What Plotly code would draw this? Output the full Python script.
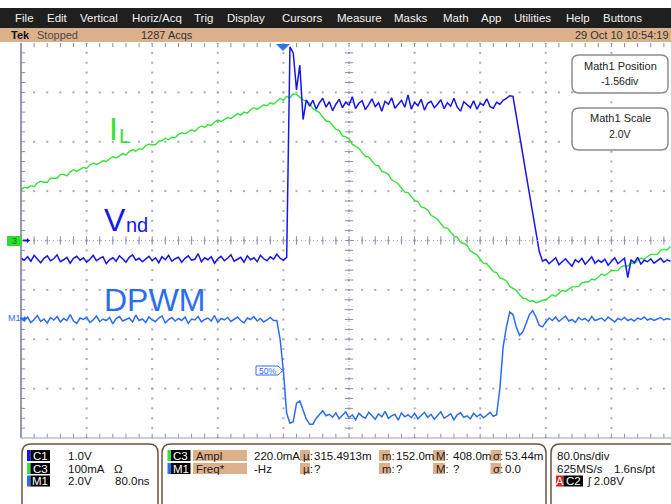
import plotly.graph_objects as go

W, H = 671, 504
FONT = "Liberation Sans"

# Acquisition settings
NS_PER_DIV = 80.0          # 80.0ns/div
SAMPLE_NS = 4.0            # decimated record spacing
X_DIVS_VISIBLE = (671 - 21) / 65.6

# C3: inductor current I_L (screen divisions, 100mA/div)
il_div = [
    1.03, 1.08, 1.06, 1.11, 1.09, 1.17, 1.20, 1.18, 1.18, 1.26,
    1.26, 1.26, 1.34, 1.34, 1.31, 1.39, 1.43, 1.40, 1.44, 1.48,
    1.46, 1.53, 1.57, 1.54, 1.57, 1.62, 1.60, 1.66, 1.70, 1.67,
    1.72, 1.76, 1.73, 1.80, 1.84, 1.81, 1.86, 1.85, 1.92, 1.95,
    1.94, 1.94, 2.01, 2.02, 2.07, 2.04, 2.09, 2.08, 2.15, 2.18,
    2.16, 2.20, 2.24, 2.21, 2.28, 2.32, 2.29, 2.35, 2.33, 2.40,
    2.44, 2.41, 2.45, 2.49, 2.47, 2.53, 2.57, 2.54, 2.60, 2.58,
    2.65, 2.69, 2.66, 2.70, 2.75, 2.73, 2.79, 2.76, 2.83, 2.88,
    2.84, 2.92, 2.89, 2.97, 2.96, 2.90, 2.85, 2.82, 2.78, 2.67,
    2.63, 2.59, 2.50, 2.42, 2.41, 2.34, 2.25, 2.23, 2.12, 2.10,
    2.06, 1.95, 1.91, 1.87, 1.78, 1.70, 1.69, 1.62, 1.53, 1.51,
    1.40, 1.38, 1.34, 1.23, 1.19, 1.15, 1.06, 0.98, 0.97, 0.90,
    0.81, 0.79, 0.68, 0.66, 0.62, 0.51, 0.47, 0.43, 0.34, 0.26,
    0.25, 0.18, 0.09, 0.07, -0.04, -0.06, -0.10, -0.21, -0.25, -0.29,
    -0.38, -0.46, -0.47, -0.54, -0.63, -0.65, -0.76, -0.78, -0.82, -0.93,
    -0.97, -1.01, -1.10, -1.17, -1.18, -1.23, -1.22, -1.26, -1.24, -1.21,
    -1.20, -1.15, -1.10, -1.13, -1.06, -1.01, -1.03, -0.99, -0.94, -0.94,
    -0.93, -0.86, -0.84, -0.84, -0.78, -0.80, -0.73, -0.68, -0.71, -0.66,
    -0.61, -0.61, -0.61, -0.53, -0.51, -0.52, -0.45, -0.47, -0.40, -0.36,
    -0.38, -0.33, -0.28, -0.28, -0.28, -0.20, -0.18, -0.19, -0.12,
]

# C1: switch node voltage V_nd (screen divisions, 1.0V/div)
vnd_div = [
    -0.35, -0.40, -0.33, -0.42, -0.30, -0.38, -0.45, -0.36, -0.31, -0.41,
    -0.37, -0.29, -0.43, -0.39, -0.34, -0.46, -0.36, -0.32, -0.40, -0.35,
    -0.44, -0.38, -0.30, -0.41, -0.36, -0.33, -0.47, -0.39, -0.35, -0.42,
    -0.31, -0.37, -0.44, -0.34, -0.29, -0.40, -0.36, -0.43, -0.38, -0.32,
    -0.41, -0.35, -0.45, -0.33, -0.39, -0.30, -0.42, -0.37, -0.34, -0.44,
    -0.36, -0.31, -0.40, -0.38, -0.27, -0.43, -0.35, -0.39, -0.33, -0.46,
    -0.37, -0.32, -0.41, -0.36, -0.29, -0.42, -0.38, -0.34, -0.44, -0.31,
    -0.39, -0.35, -0.43, -0.30, -0.37, -0.41, -0.33, -0.38, -0.28, -0.36,
    -0.40, -0.34,
    3.92, 3.80, 3.05, 3.55, 2.45, 2.85,
    2.72, 2.84, 2.66, 2.79, 2.88, 2.70, 2.81, 2.63, 2.76, 2.86,
    2.69, 2.80, 2.74, 2.91, 2.67, 2.78, 2.83, 2.65, 2.75, 2.87,
    2.71, 2.79, 2.62, 2.82, 2.76, 2.89, 2.68, 2.77, 2.84, 2.70,
    2.95, 2.66, 2.80, 2.73, 2.86, 2.64, 2.78, 2.82, 2.69, 2.76,
    2.85, 2.67, 2.79, 2.72, 2.88, 2.70, 2.62, 2.81, 2.75, 2.69,
    2.83, 2.66, 2.78, 2.74, 2.87, 2.71, 2.68, 2.80, 2.76, 2.84,
    2.88, 2.93,
    2.92, 2.55, 2.15, 1.74, 1.34, 0.93, 0.57, 0.16, -0.22,
    -0.42, -0.38, -0.47, -0.40, -0.35, -0.49, -0.43, -0.37, -0.45, -0.52,
    -0.39, -0.44, -0.36, -0.48, -0.41, -0.33, -0.46, -0.40, -0.44, -0.38,
    -0.50, -0.42, -0.35, -0.47, -0.41, -0.36, -0.75, -0.39, -0.45, -0.34,
    -0.48, -0.40, -0.43, -0.37, -0.46, -0.41, -0.36, -0.44, -0.39, -0.42,
]

# M1: DPWM gate signal (screen divisions, 2.0V/div)
dpwm_div = [
    -1.58, -1.63, -1.55, -1.66, -1.60, -1.52, -1.64, -1.59, -1.67, -1.56,
    -1.61, -1.54, -1.65, -1.58, -1.62, -1.50, -1.63, -1.68, -1.57, -1.60,
    -1.55, -1.66, -1.61, -1.53, -1.64, -1.59, -1.62, -1.56, -1.69, -1.58,
    -1.54, -1.63, -1.60, -1.57, -1.65, -1.51, -1.62, -1.59, -1.66, -1.55,
    -1.61, -1.64, -1.57, -1.53, -1.67, -1.60, -1.56, -1.63, -1.58, -1.62,
    -1.55, -1.68, -1.59, -1.61, -1.54, -1.65, -1.60, -1.57, -1.63, -1.52,
    -1.66, -1.58, -1.61, -1.56, -1.64, -1.59, -1.55, -1.62, -1.67, -1.57,
    -1.60, -1.54, -1.63, -1.58, -1.65, -1.61, -1.56, -1.62,
    -1.62, -2.00, -2.65, -3.50, -3.70, -3.67, -3.30, -3.25, -3.45, -3.62,
    -3.72, -3.72, -3.60, -3.52, -3.45, -3.55,
    -3.52, -3.58, -3.49, -3.61, -3.55, -3.47, -3.59, -3.53, -3.63, -3.50,
    -3.56, -3.60, -3.48, -3.54, -3.62, -3.51, -3.57, -3.46, -3.60, -3.55,
    -3.52, -3.64, -3.49, -3.57, -3.53, -3.59, -3.50, -3.61, -3.55, -3.48,
    -3.58, -3.52, -3.62, -3.54, -3.47, -3.60, -3.56, -3.51, -3.63, -3.53,
    -3.49, -3.58, -3.55, -3.61, -3.50, -3.57, -3.52, -3.59, -3.54, -3.48,
    -3.56, -3.53,
    -3.00, -2.15, -1.75, -1.45, -1.50, -1.75, -1.92, -1.85, -1.68, -1.50,
    -1.42, -1.55, -1.72, -1.75, -1.65,
    -1.57, -1.62, -1.55, -1.64, -1.59, -1.53, -1.63, -1.60, -1.66, -1.56,
    -1.61, -1.58, -1.64, -1.54, -1.62, -1.59, -1.57, -1.63, -1.55, -1.60,
    -1.65, -1.58, -1.61, -1.56, -1.62, -1.59, -1.63, -1.57, -1.60, -1.55,
    -1.61, -1.58, -1.62, -1.59, -1.56, -1.61, -1.58, -1.60,
]

assert len(il_div) == 199, len(il_div)
assert len(vnd_div) == 199, len(vnd_div)
assert len(dpwm_div) == 199, len(dpwm_div)

menu_items = ["File", "Edit", "Vertical", "Horiz/Acq", "Trig", "Display", "Cursors",
              "Measure", "Masks", "Math", "App", "Utilities", "Help", "Buttons"]
menu_x = [14, 46, 79, 131, 193, 226, 281, 336, 393, 442, 480, 513, 565, 602]

C_IL = "#36e236"
C_VND = "#1616ec"
C_DPWM = "#2d6cf0"
TAN = "#dcb08b"
GRID = "#a3aac4"
EDGE = "#8a90aa"
BROWN = "#6e5242"

X_MAX = X_DIVS_VISIBLE * NS_PER_DIV


def px(x):
    return x / W


def py(y):
    return 1 - y / H


shapes = []
annos = []


def rect(x0, y0, x1, y1, fill, line=None, lw=0):
    shapes.append(dict(type="rect", xref="paper", yref="paper",
                       x0=px(x0), x1=px(x1), y0=py(y1), y1=py(y0),
                       fillcolor=fill, line=dict(color=line or fill, width=lw)))


def rrect(x0, y0, x1, y1, r, fill, line, lw):
    p = (f"M {px(x0 + r)},{py(y0)} L {px(x1 - r)},{py(y0)} "
         f"Q {px(x1)},{py(y0)} {px(x1)},{py(y0 + r)} L {px(x1)},{py(y1 - r)} "
         f"Q {px(x1)},{py(y1)} {px(x1 - r)},{py(y1)} L {px(x0 + r)},{py(y1)} "
         f"Q {px(x0)},{py(y1)} {px(x0)},{py(y1 - r)} L {px(x0)},{py(y0 + r)} "
         f"Q {px(x0)},{py(y0)} {px(x0 + r)},{py(y0)} Z")
    shapes.append(dict(type="path", xref="paper", yref="paper", path=p,
                       fillcolor=fill, line=dict(color=line, width=lw)))


def poly(pts, fill, line=None, lw=0):
    p = "M " + " L ".join(f"{px(x)},{py(y)}" for x, y in pts) + " Z"
    shapes.append(dict(type="path", xref="paper", yref="paper", path=p,
                       fillcolor=fill, line=dict(color=line or fill, width=lw)))


def txt(x, y, s, size=11.5, color="#111111", anchor="left", family=FONT):
    annos.append(dict(x=px(x), y=py(y), xref="paper", yref="paper", text=s,
                      showarrow=False, xanchor=anchor, yanchor="middle",
                      borderpad=0, font=dict(size=size, color=color, family=family)))


fig = go.Figure()

# --- graticule: dotted division lines -------------------------------------
gx, gy = [], []
for k in range(1, 10):
    for j in range(-20, 21):
        gx.append(k * NS_PER_DIV)
        gy.append(j * 0.2)
for m in range(-3, 4):
    for j in range(1, 50):
        gx.append(j * NS_PER_DIV / 5)
        gy.append(m)
fig.add_trace(go.Scatter(x=gx, y=gy, mode="markers", hoverinfo="skip",
                         marker=dict(symbol="square", size=2, color=GRID, line=dict(width=0))))

# minor ticks on the centre cross and frame edges
minor_x = [j * NS_PER_DIV / 5 for j in range(1, 50)]
minor_y = [j * 0.2 for j in range(-19, 20)]
fig.add_trace(go.Scatter(x=minor_x * 3, y=[0] * 49 + [4] * 49 + [-4] * 49, mode="markers",
                         hoverinfo="skip",
                         marker=dict(symbol="line-ns", size=6, line=dict(width=1, color=EDGE))))
fig.add_trace(go.Scatter(x=[400] * 39 + [0] * 39, y=minor_y * 2, mode="markers",
                         hoverinfo="skip",
                         marker=dict(symbol="line-ew", size=6, line=dict(width=1, color=EDGE))))

# --- waveforms -------------------------------------------------------------
t_il = [i * SAMPLE_NS for i in range(len(il_div))]
t_vnd = [i * SAMPLE_NS for i in range(len(vnd_div))]
t_dpwm = [i * SAMPLE_NS for i in range(len(dpwm_div))]

fig.add_trace(go.Scatter(x=t_il, y=il_div, mode="lines", name="C3",
                         line=dict(color=C_IL, width=1.4)))
fig.add_trace(go.Scatter(x=t_dpwm, y=dpwm_div, mode="lines", name="M1",
                         line=dict(color=C_DPWM, width=1.5)))
fig.add_trace(go.Scatter(x=t_vnd, y=vnd_div, mode="lines", name="C1",
                         line=dict(color=C_VND, width=1.5)))

# frame lines and centre cross
X0, Y_TOP, Y_BOT = 21, 43, 438
shapes.append(dict(type="line", xref="paper", yref="paper", x0=px(X0), x1=px(X0),
                   y0=py(Y_BOT), y1=py(Y_TOP), line=dict(color="#737a96", width=1.5)))
shapes.append(dict(type="line", xref="paper", yref="paper", x0=px(X0), x1=1,
                   y0=py(Y_BOT), y1=py(Y_BOT), line=dict(color="#9aa0b8", width=1)))
shapes.append(dict(type="line", xref="x", yref="y", x0=0, x1=X_MAX, y0=0, y1=0,
                   line=dict(color=GRID, width=1, dash="1px,3px")))
shapes.append(dict(type="line", xref="x", yref="y", x0=400, x1=400, y0=-4, y1=4,
                   line=dict(color=GRID, width=1, dash="1px,3px")))

# --- menu and status bars --------------------------------------------------
rect(0, 8, W, 28, "#1f1f1f")
rect(0, 28, W, 42, TAN)
for name, x in zip(menu_items, menu_x):
    txt(x, 18, name, size=11.5, color="#f2f2f2")
txt(10, 35, "<b>Tek</b>", size=11, color="#111111")
txt(36, 35, "Stopped", size=11, color="#4a4a4a")
txt(140, 35, "1287 Acqs", size=11, color="#333333")
txt(670, 35, "29 Oct 10 10:54:19", size=11, color="#333333", anchor="right")

# trigger position marker
poly([(276, 44), (290, 44), (283, 51)], "#2a7be0")

# ground / reference markers on the left edge
rect(7, 236, 22, 246, "#2fdc2f")
txt(14.5, 241, "3", size=9, color="#1d6e1d", anchor="center")
poly([(23, 239.5), (27, 239.5), (27, 238), (30, 240.5), (27, 243), (27, 241.5), (23, 241.5)], C_VND)
txt(7, 318, "M1", size=9, color=C_DPWM)
poly([(20, 317.5), (24, 317.5), (24, 316), (27, 318.5), (24, 321), (24, 319.5), (20, 319.5)], C_DPWM)

# 50% threshold flag on the M1 edge
poly([(256, 366), (278, 366), (283, 370.5), (278, 375), (256, 375)], "white", C_DPWM, 1)
txt(267, 370.5, "50%", size=8.5, color=C_DPWM, anchor="center")

# trace labels
txt(108, 129, "I", size=32, color=C_IL)
txt(118, 136, "L", size=21, color=C_IL)
txt(103, 219.5, "V", size=32, color=C_VND)
txt(125, 225, "nd", size=20, color=C_VND)
txt(103, 300, "DPWM", size=32, color=C_DPWM)

# math readout boxes
rrect(572, 55, 668, 93, 7, "white", "#8c8c8c", 1.5)
txt(620, 66, "Math1 Position", size=11, color="#222222", anchor="center")
txt(620, 81, "-1.56div", size=10.5, color="#222222", anchor="center")
rrect(572, 108, 668, 150, 7, "white", "#8c8c8c", 1.5)
txt(620, 118, "Math1 Scale", size=11, color="#222222", anchor="center")
txt(620, 134, "2.0V", size=10.5, color="#222222", anchor="center")

# --- bottom readout panels -------------------------------------------------
rrect(22, 444, 158, 515, 9, "white", BROWN, 1.5)
rrect(162, 444, 546, 515, 9, "white", BROWN, 1.5)
rrect(551, 444, 690, 515, 9, "white", BROWN, 1.5)

R1, R2, R3 = 455.5, 468.5, 481


def chan_tag(x_sw, y, label, color):
    rect(x_sw, y - 5.5, x_sw + 3.5, y + 5.5, color)
    rect(x_sw + 3.5, y - 5.5, x_sw + 23, y + 5.5, "#000000")
    txt(x_sw + 13.2, y, label, size=11.5, color="white", anchor="center")


chan_tag(27, R1, "C1", C_VND)
chan_tag(27, R2, "C3", C_IL)
chan_tag(27, R3, "M1", C_DPWM)
txt(67, R1, "1.0V")
txt(67, R2, "100mA")
txt(113, R2, "Ω")
txt(67, R3, "2.0V")
txt(114, R3, "80.0ns")

chan_tag(167.5, R1, "C3", C_IL)
chan_tag(167.5, R2, "M1", C_DPWM)


def tan_tag(x0, x1, y, s):
    rect(x0, y - 5.5, x1, y + 5.5, TAN)
    txt(x0 + 1.5, y, s, size=11.5, color="#2a2016")


tan_tag(193, 247, R1, "Ampl")
tan_tag(193, 247, R2, "Freq*")
txt(253, R1, "220.0mA")
txt(253, R2, "-Hz")
for x0, x1, lab, xv, v1, v2 in [(300, 310, "µ:", 313, "315.4913m", "?"),
                                 (379, 390, "m:", 395, "152.0m", "?"),
                                 (433, 445, "M:", 452, "408.0m", "?"),
                                 (490.5, 501, "σ:", 504, "53.44m", "0.0")]:
    tan_tag(x0, x1, R1, lab)
    tan_tag(x0, x1, R2, lab)
    txt(xv, R1, v1)
    txt(xv, R2, v2)

txt(556, R1, "80.0ns/div")
txt(556, R2, "625MS/s")
txt(613, R2, "1.6ns/pt")
rect(556, R3 - 5.5, 563.5, R3 + 5.5, "#ee1c1c")
txt(559.8, R3, "A", size=11, color="white", anchor="center")
rect(563.5, R3 - 5.5, 583, R3 + 5.5, "#000000")
txt(573.2, R3, "C2", size=11.5, color="white", anchor="center")
txt(586, R3, "ʃ 2.08V")

fig.update_layout(
    width=W, height=H,
    margin=dict(l=0, r=0, t=0, b=0),
    paper_bgcolor="white", plot_bgcolor="white",
    showlegend=False,
    xaxis=dict(domain=[px(X0), 1], range=[0, X_MAX], visible=False, fixedrange=True),
    yaxis=dict(domain=[py(Y_BOT), py(Y_TOP)], range=[-4, 4], visible=False, fixedrange=True),
    shapes=shapes,
    annotations=annos,
)

fig.write_html("out.html")
